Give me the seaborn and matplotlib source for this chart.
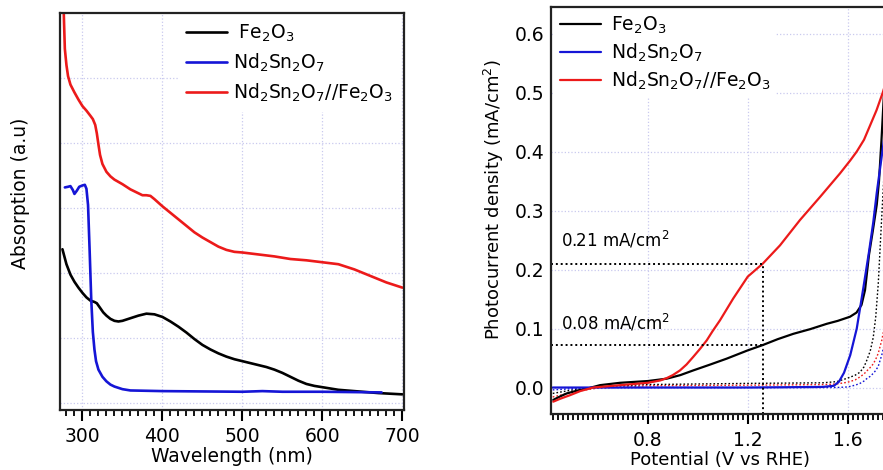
import matplotlib
matplotlib.use("Agg")
import matplotlib.pyplot as plt
import seaborn as sns
from matplotlib.ticker import MultipleLocator

# 吸收光譜資料 (左圖)
wl_fe = [275, 280, 285, 290, 295, 300, 305, 310, 315, 318, 322, 326, 330, 335, 340, 345,
         350, 360, 370, 380, 390, 400, 410, 420, 430, 440, 450, 460, 470, 480, 490, 500,
         510, 520, 530, 540, 550, 560, 570, 580, 590, 600, 620, 640, 670, 700]
abs_fe = [2.37, 2.14, 1.98, 1.87, 1.78, 1.70, 1.63, 1.58, 1.56, 1.54, 1.47, 1.40, 1.35,
          1.30, 1.27, 1.26, 1.27, 1.31, 1.35, 1.38, 1.37, 1.33, 1.26, 1.18, 1.09, 0.99,
          0.90, 0.83, 0.77, 0.72, 0.68, 0.65, 0.62, 0.59, 0.56, 0.52, 0.47, 0.41, 0.35,
          0.30, 0.27, 0.25, 0.21, 0.19, 0.16, 0.14]
wl_nd = [278, 282, 285, 288, 290, 293, 296, 300, 303, 305, 307, 309, 311, 313, 315, 317,
         320, 325, 330, 335, 340, 350, 360, 400, 500, 525, 550, 600, 674]
abs_nd = [3.32, 3.33, 3.34, 3.28, 3.22, 3.27, 3.33, 3.35, 3.36, 3.30, 3.05, 2.35, 1.60,
          1.10, 0.83, 0.65, 0.52, 0.41, 0.34, 0.29, 0.26, 0.22, 0.20, 0.19, 0.18, 0.19,
          0.18, 0.18, 0.17]
wl_het = [276, 277, 278, 280, 282, 285, 290, 295, 300, 305, 310, 313, 316, 318, 320, 322,
          325, 330, 335, 340, 350, 360, 370, 375, 380, 385, 390, 400, 410, 420, 430, 440,
          450, 460, 470, 480, 490, 500, 520, 540, 560, 580, 600, 620, 640, 660, 680, 700]
abs_het = [6.30, 5.85, 5.45, 5.20, 5.03, 4.90, 4.78, 4.67, 4.57, 4.50, 4.42, 4.37, 4.28,
           4.15, 3.98, 3.82, 3.68, 3.56, 3.49, 3.44, 3.37, 3.29, 3.23, 3.20, 3.20, 3.19,
           3.14, 3.03, 2.93, 2.83, 2.73, 2.63, 2.55, 2.48, 2.41, 2.36, 2.33, 2.32, 2.29,
           2.26, 2.22, 2.20, 2.17, 2.14, 2.06, 1.96, 1.86, 1.78]

# 光電流資料 (右圖)
v_fe = [0.422, 0.45, 0.476, 0.52, 0.556, 0.609, 0.689, 0.80, 0.876, 0.93, 0.982, 1.05,
        1.116, 1.20, 1.26, 1.32, 1.382, 1.45, 1.516, 1.56, 1.609, 1.635, 1.655, 1.669,
        1.685, 1.70, 1.716, 1.725, 1.735, 1.745, 1.755]
j_fe = [-0.021, -0.015, -0.010, -0.005, -0.002, 0.004, 0.008, 0.011, 0.015, 0.021, 0.029,
        0.039, 0.049, 0.063, 0.072, 0.082, 0.091, 0.099, 0.108, 0.113, 0.120, 0.127,
        0.140, 0.165, 0.225, 0.265, 0.31, 0.35, 0.42, 0.50, 0.58]
v_nd = [0.42, 0.60, 0.80, 1.20, 1.50, 1.545, 1.565, 1.585, 1.61, 1.636, 1.662, 1.685,
        1.702, 1.716, 1.732, 1.745, 1.76]
j_nd = [0.0, 0.0, 0.0, 0.0, 0.001, 0.003, 0.010, 0.025, 0.055, 0.10, 0.168, 0.23, 0.28,
        0.33, 0.38, 0.42, 0.47]
v_het = [0.422, 0.45, 0.489, 0.53, 0.582, 0.689, 0.80, 0.85, 0.876, 0.90, 0.929, 0.955,
         0.982, 1.01, 1.036, 1.06, 1.089, 1.142, 1.20, 1.26, 1.329, 1.409, 1.489, 1.569,
         1.61, 1.636, 1.665, 1.689, 1.715, 1.74, 1.765]
j_het = [-0.024, -0.019, -0.013, -0.006, 0.0, 0.004, 0.008, 0.012, 0.016, 0.021, 0.029,
         0.039, 0.052, 0.066, 0.080, 0.096, 0.114, 0.151, 0.188, 0.210, 0.241, 0.284,
         0.323, 0.363, 0.385, 0.400, 0.420, 0.444, 0.470, 0.500, 0.535]

# 暗電流 (虛線)
v_dark = [0.42, 0.46, 0.50, 0.55, 0.60, 0.80, 1.20, 1.50, 1.556, 1.60, 1.630, 1.649,
          1.665, 1.676, 1.690, 1.702, 1.712, 1.722, 1.736, 1.75, 1.765]
j_dark_fe = [-0.010, -0.007, -0.004, -0.001, 0.001, 0.005, 0.007, 0.008, 0.010, 0.016,
             0.021, 0.026, 0.035, 0.046, 0.062, 0.085, 0.120, 0.176, 0.290, 0.40, 0.50]
j_dark_het = [-0.016, -0.012, -0.008, -0.004, -0.001, 0.003, 0.004, 0.005, 0.006, 0.009,
              0.013, 0.018, 0.023, 0.028, 0.034, 0.040, 0.048, 0.058, 0.080, 0.11, 0.14]
j_dark_nd = [-0.004, -0.003, -0.002, -0.001, 0.0, 0.0, 0.0, 0.0, 0.0, 0.001, 0.004, 0.007,
             0.011, 0.015, 0.019, 0.024, 0.029, 0.036, 0.055, 0.08, 0.11]

# 標註
mark_v = 1.26
mark_j = [0.21, 0.072]
mark_text = ['0.21 mA/cm$^2$', '0.08 mA/cm$^2$']
mark_text_y = [0.233, 0.091]

labels = ['Fe$_2$O$_3$', 'Nd$_2$Sn$_2$O$_7$', 'Nd$_2$Sn$_2$O$_7$//Fe$_2$O$_3$']
colors = ['black', '#1515d6', '#ec1a1a']

sns.set_theme(style="ticks")
plt.rcParams['font.family'] = ['DejaVu Sans']
plt.rcParams['mathtext.default'] = 'regular'
for key in ['text.color', 'axes.labelcolor', 'xtick.color', 'ytick.color']:
    plt.rcParams[key] = 'black'
grid_color = '#c9c9ee'

fig = plt.figure(figsize=(8.83, 4.70), dpi=100)
ax1 = fig.add_axes([0.068, 0.1277, 0.3895, 0.8446])
ax2 = fig.add_axes([0.624, 0.119, 0.3828, 0.866])

# ---- 左圖: 吸收光譜 ----
for wl, a, c, lab in zip([wl_fe, wl_nd, wl_het], [abs_fe, abs_nd, abs_het], colors,
                         [' ' + labels[0], labels[1], labels[2]]):
    sns.lineplot(x=wl, y=a, color=c, linewidth=1.9, ax=ax1, label=lab, sort=False)

ax1.set_xlim(272, 702)
ax1.set_ylim(-0.1, 6.0)
ax1.xaxis.set_major_locator(MultipleLocator(100))
ax1.xaxis.set_minor_locator(MultipleLocator(10))
ax1.set_yticks(range(6))
ax1.set_yticklabels([])
ax1.tick_params(axis='x', which='major', bottom=True, direction='out', length=8,
                width=1.5, color='black', labelsize=13.5, pad=4)
ax1.tick_params(axis='x', which='minor', bottom=True, direction='out', length=4,
                width=1.3, color='black')
ax1.tick_params(axis='y', length=0)
ax1.grid(True, which='major', linestyle=':', linewidth=0.9, color=grid_color)
ax1.set_xlabel('Wavelength (nm)', fontsize=13.5, labelpad=1)
ax1.set_ylabel('Absorption (a.u)', fontsize=13.5)
ax1.yaxis.set_label_coords(-0.087, 0.547)
ax1.legend(loc='upper left', bbox_to_anchor=(0.345, 0.995), fontsize=13.5, frameon=True,
           framealpha=1, edgecolor='none', facecolor='white', handlelength=2.2,
           handletextpad=0.3, labelspacing=0.42, borderpad=0.4, borderaxespad=0,
           fancybox=False)

# ---- 右圖: 光電流 ----
for jj, c in zip([j_dark_fe, j_dark_het, j_dark_nd], [colors[0], colors[2], colors[1]]):
    sns.lineplot(x=v_dark, y=jj, color=c, linewidth=1.0, linestyle=(0, (1.2, 1.5)),
                 ax=ax2, sort=False)
for vv, jj, c, lab in zip([v_fe, v_nd, v_het], [j_fe, j_nd, j_het], colors, labels):
    sns.lineplot(x=vv, y=jj, color=c, linewidth=1.6, ax=ax2, label=lab, sort=False)

ax2.set_xlim(0.413, 1.765)
ax2.set_ylim(-0.045, 0.645)

for jv, txt, ty in zip(mark_j, mark_text, mark_text_y):
    ax2.plot([0.413, mark_v], [jv, jv], color='black', linestyle=(0, (1, 1.5)),
             linewidth=1.4)
    ax2.text(0.455, ty, txt, fontsize=12, ha='left', va='bottom')
ax2.plot([mark_v, mark_v], [-0.045, max(mark_j)], color='black',
         linestyle=(0, (1, 1.5)), linewidth=1.4)

ax2.set_xticks([0.8, 1.2, 1.6])
ax2.set_xticklabels(['0.8', '1.2', '1.6'])
ax2.xaxis.set_minor_locator(MultipleLocator(0.02))
ax2.set_yticks([0.0, 0.1, 0.2, 0.3, 0.4, 0.5, 0.6])
ax2.set_yticklabels(['0.0', '0.1', '0.2', '0.3', '0.4', '0.5', '0.6'])
ax2.tick_params(axis='x', which='major', bottom=True, direction='out', length=7,
                width=1.5, color='black', labelsize=13.5, pad=5)
ax2.tick_params(axis='x', which='minor', bottom=True, direction='out', length=4,
                width=1.3, color='black')
ax2.tick_params(axis='y', length=0, labelsize=13.5, pad=5)
ax2.grid(True, which='major', linestyle=':', linewidth=0.9, color=grid_color)
ax2.set_xlabel('Potential (V vs RHE)', fontsize=13, labelpad=1)
ax2.set_ylabel('Photocurrent density (mA/cm$^2$)', fontsize=13)
ax2.yaxis.set_label_coords(-0.132, 0.526)
ax2.legend(loc='upper left', bbox_to_anchor=(0.01, 0.995), fontsize=13.5, frameon=True,
           framealpha=1, edgecolor='none', facecolor='white', handlelength=2.2,
           handletextpad=0.5, labelspacing=0.3, borderpad=0.3, borderaxespad=0,
           fancybox=False)

for ax in (ax1, ax2):
    for s in ax.spines.values():
        s.set_color('#222222')
        s.set_linewidth(1.6)

fig.savefig('out.png', dpi=100)
